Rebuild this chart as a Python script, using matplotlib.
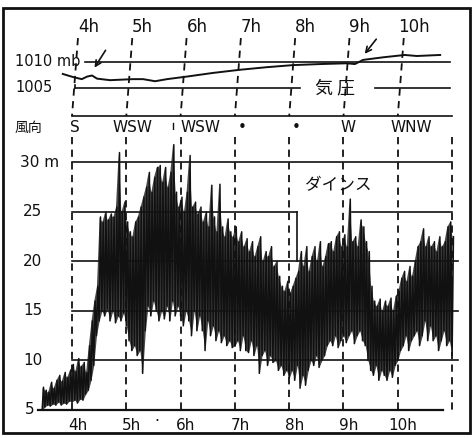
import numpy as np
import matplotlib
matplotlib.use('Agg')
import matplotlib.pyplot as plt
from matplotlib.patches import Rectangle

plt.rcParams['font.family'] = ['DejaVu Sans', 'Noto Sans CJK JP']
JP = ['Noto Sans CJK JP', 'DejaVu Sans']

# ---------------- data ----------------
hours = [4, 5, 6, 7, 8, 9, 10]
hour_labels = ['4h', '5h', '6h', '7h', '8h', '9h', '10h']
grid_hours = [4, 5, 6, 7, 8, 9, 10, 11]

# pressure trace (time in hours, mb)
press_t = [3.83, 4.02, 4.18, 4.28, 4.37, 4.46, 4.70, 5.12, 5.31, 5.53, 5.75,
           6.12, 6.60, 7.09, 7.59, 8.07, 8.57, 9.06, 9.21, 9.36, 9.73, 10.13,
           10.35, 10.78]
press_mb = [1007.7, 1007.1, 1006.7, 1007.2, 1007.4, 1006.8, 1006.5, 1006.7,
            1006.7, 1006.3, 1006.7, 1007.2, 1007.9, 1008.5, 1009.0, 1009.4,
            1009.6, 1009.75, 1009.6, 1010.4, 1010.9, 1011.35, 1011.15, 1011.35]

# wind direction notes
dir_t = [4.06, 5.12, 6.36, 7.13, 8.13, 9.08, 10.24]
dir_labels = ['S', 'WSW', 'WSW', '•', '•', 'W', 'WNW']

# wind speed (m/s) : lull / gust envelope every 0.05 h from 3.45 h
wind_t_start = 3.45
wind_t_step = 0.05
wind_low = [
    5.0, 5.3, 5.5, 5.4, 5.6, 5.5, 5.8, 5.5, 5.7, 5.6, 5.9,          # 3.45-3.95
    5.8, 6.0, 5.7, 6.1, 6.0, 6.6, 7.0, 8.0, 9.5, 12.5,              # 4.00-4.45
    14.0, 15.0, 14.5, 15.2, 14.0, 15.0, 13.8, 14.5, 14.0, 14.8,     # 4.50-4.95
    13.5, 12.0, 11.0, 11.5, 10.5, 11.0, 8.7, 13.0, 15.5, 14.5,      # 5.00-5.45
    16.0, 15.0, 14.0, 15.0, 14.2, 15.5, 14.0, 16.0, 14.5, 15.5,     # 5.50-5.95
    14.5, 13.5, 15.0, 14.0, 12.5, 15.0, 13.0, 14.5, 13.0, 11.0,     # 6.00-6.45
    14.0, 12.5, 13.5, 12.0, 13.0, 11.8, 12.5, 11.5, 12.0, 11.3,     # 6.50-6.95
    11.5, 12.0, 11.0, 12.5, 11.0, 10.8, 12.0, 10.5, 11.5, 8.7,      # 7.00-7.45
    10.5, 11.0, 9.5, 10.5, 9.8, 10.0, 9.0, 9.5, 8.5, 9.0,           # 7.50-7.95
    8.2, 9.0, 8.0, 9.5, 7.2, 8.5, 7.5, 9.0, 10.0, 9.5,              # 8.00-8.45
    10.5, 9.3, 10.0, 10.5, 11.5, 12.0, 11.5, 12.5, 11.3, 12.0,      # 8.50-8.95
    12.5, 11.8, 12.5, 13.0, 11.7, 12.5, 13.0, 12.0, 11.5, 10.0,     # 9.00-9.45
    9.0, 8.5, 9.5, 8.0, 9.0, 8.5, 8.0, 9.0, 8.3, 9.5,               # 9.50-9.95
    10.0, 11.0, 11.5, 12.5, 11.0, 12.0, 12.5, 13.0, 11.5, 12.5,     # 10.00-10.45
    14.0, 12.0, 13.5, 12.0, 12.5, 11.0, 12.0, 13.0, 11.5, 12.0,     # 10.50-10.95
    10.5]                                                           # 11.00
wind_high = [
    7.3, 7.0, 6.8, 7.8, 7.2, 8.0, 8.5, 7.9, 8.8, 8.3, 9.0,          # 3.45-3.95
    9.6, 8.9, 10.2, 9.4, 9.8, 8.8, 11.5, 14.0, 16.0, 17.5,          # 4.00-4.45
    24.5, 24.0, 25.0, 24.2, 24.8, 24.5, 25.5, 31.0, 25.0, 26.0,     # 4.50-4.95
    24.0, 23.0, 22.5, 24.0, 24.5, 25.5, 26.5, 27.5, 29.0, 27.0,     # 5.00-5.45
    28.5, 29.5, 29.7, 28.0, 29.5, 27.5, 29.0, 31.8, 27.0, 25.5,     # 5.50-5.95
    26.5, 25.0, 27.0, 30.7, 25.5, 26.0, 24.8, 25.5, 24.0, 25.0,     # 6.00-6.45
    23.5, 27.7, 24.5, 23.0, 27.8, 23.5, 22.5, 24.3, 23.0, 22.5,     # 6.50-6.95
    23.5, 22.0, 23.0, 21.5, 22.3, 21.0, 22.0, 20.5, 21.5, 22.5,     # 7.00-7.45
    20.0, 21.0, 20.5, 21.5, 19.5, 20.0, 18.5, 17.5, 17.0, 18.0,     # 7.50-7.95
    16.8, 17.5, 18.3, 19.0, 21.0, 19.5, 21.5, 19.0, 20.5, 21.5,     # 8.00-8.45
    20.0, 22.0, 19.5, 20.5, 21.8, 22.0, 21.0, 22.5, 23.0, 21.5,     # 8.50-8.95
    22.7, 21.5, 26.3, 22.0, 22.5, 21.5, 24.2, 23.5, 22.0, 21.0,     # 9.00-9.45
    17.5, 16.0, 15.5, 16.2, 15.0, 16.0, 15.5, 16.3, 15.0, 16.5,     # 9.50-9.95
    17.0, 18.3, 19.0, 18.0, 19.5, 18.5, 20.0, 21.5, 22.0, 23.3,     # 10.00-10.45
    21.5, 22.5, 21.5, 22.0, 21.0, 22.5, 21.5, 22.0, 23.5, 24.0,     # 10.50-10.95
    22.5]                                                           # 11.00

# ---------------- layout ----------------
W, H = 473, 438
fig = plt.figure(figsize=(W / 100, H / 100), dpi=100)
fig.patch.set_facecolor('white')

xlim = (2.674, 11.385)
top_px = 130
ax_p = fig.add_axes([0, (H - top_px) / H, 1, top_px / H])
ax_w = fig.add_axes([0, 0, 1, (H - top_px) / H])
for a in (ax_p, ax_w):
    a.set_xlim(*xlim)
    a.axis('off')
ax_p.set_ylim(996.92, 1021.92)
ax_w.set_ylim(2.172, 33.28)

ink = '#111111'

# ---------------- pressure panel ----------------
ax_p.plot([4.24, 10.96], [1010, 1010], color=ink, lw=1.2)
ax_p.plot([4.055, 8.2], [1005, 1005], color=ink, lw=1.2)
ax_p.plot([9.58, 10.96], [1005, 1005], color=ink, lw=1.2)
ax_p.plot([4.055, 4.055], [1005, 1005.6], color=ink, lw=1.2)
ax_p.plot([4.0, 11.0], [999.6, 999.6], color=ink, lw=1.2)
ax_p.plot(press_t, press_mb, color=ink, lw=1.4)

for h, lab in zip(hours, hour_labels):
    ax_p.plot([h + 0.11, h], [1014.6, 999.6], color=ink, lw=1.3,
              linestyle=(0, (4, 3)))
    ax_p.text(h + 0.3, 1016.8, lab, ha='center', va='center', fontsize=12,
              color=ink)

ax_p.text(2.95, 1010, '1010 mb', ha='left', va='center', fontsize=10.5,
          color=ink)
ax_p.text(2.95, 1005, '1005', ha='left', va='center', fontsize=10.5, color=ink)
ax_p.text(8.85, 1005, '気 圧', ha='center', va='center', fontsize=13,
          color=ink, family=JP)
ax_p.text(2.95, 997.4, '風向', ha='left', va='center', fontsize=10,
          color=ink, family=JP)
for t, lab in zip(dir_t, dir_labels):
    ax_p.text(t, 997.4, lab, ha='center', va='center', fontsize=11, color=ink)
ax_p.plot([5.86, 5.86], [995.0, 998.2], color=ink, lw=1.0)

ax_p.annotate('', xy=(4.387, 1008.46), xytext=(4.645, 1012.69),
              arrowprops=dict(arrowstyle='->', lw=1.2, color=ink))
ax_p.annotate('', xy=(9.359, 1011.15), xytext=(9.635, 1014.81),
              arrowprops=dict(arrowstyle='->', lw=1.2, color=ink))

# ---------------- wind panel ----------------
for lev in [10, 15, 20]:
    ax_w.plot([4, 11.1], [lev, lev], color=ink, lw=1.2, zorder=1)
ax_w.plot([4, 8.15], [25, 25], color=ink, lw=1.2, zorder=1)
ax_w.plot([9.15, 11.0], [25, 25], color=ink, lw=1.2, zorder=1)
ax_w.plot([8.15, 8.15], [20, 25], color=ink, lw=1.2, zorder=1)
ax_w.plot([4, 11.0], [30, 30], color=ink, lw=1.2, zorder=1)
ax_w.plot([3.37, 10.83], [5, 5], color=ink, lw=1.6, zorder=3)

for h in grid_hours:
    ax_w.plot([h, h], [32.6, 5], color=ink, lw=1.3, linestyle=(0, (4, 3)),
              zorder=4)

n = len(wind_low)
wt = [wind_t_start + i * wind_t_step for i in range(n)]
zx, zy = [], []
for t, lo, hi in zip(wt, wind_low, wind_high):
    zx += [t, t + wind_t_step / 2]
    zy += [lo, hi]
ax_w.fill_between(wt, wind_low, wind_high, color='#1a1a1a', lw=0, zorder=2,
                  alpha=0.8)
ax_w.plot(zx, zy, color=ink, lw=1.1, zorder=3)

ylabs = [(30, '30 m'), (25, '25'), (20, '20'), (15, '15'), (10, '10'), (5, '5')]
for v, lab in ylabs:
    if v == 30:
        ax_w.text(3.04, v, lab, ha='left', va='center', fontsize=11, color=ink)
    else:
        ax_w.text(3.28 if v != 5 else 3.22, v, lab, ha='center', va='center',
                  fontsize=11, color=ink)

ax_w.text(8.9, 27.7, 'ダインス', ha='center', va='center', fontsize=12,
          color=ink, family=JP)

for h, lab in zip(hours, hour_labels):
    ax_w.text(h + 0.1, 3.48, lab, ha='center', va='center', fontsize=11,
              color=ink)
ax_w.text(5.57, 3.8, '·', ha='center', va='center', fontsize=11, color=ink)

# sheet frame
fig.add_artist(Rectangle((3 / W, 5 / H), 467 / W, 425 / H,
                         transform=fig.transFigure, fill=False, lw=2,
                         edgecolor=ink))

fig.savefig('out.png', dpi=100)
